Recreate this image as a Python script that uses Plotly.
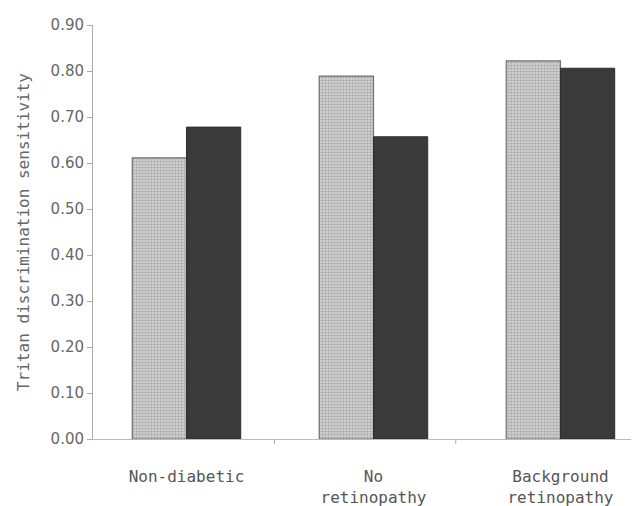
import plotly.graph_objects as go

categories = ["Non-diabetic", "No<br>retinopathy", "Background<br>retinopathy"]
series_light = [0.611, 0.789, 0.822]
series_dark = [0.678, 0.657, 0.806]
y_ticks = [0.0, 0.1, 0.2, 0.3, 0.4, 0.5, 0.6, 0.7, 0.8, 0.9]
y_ticktext = [f"{v:.2f}" for v in y_ticks]
x_pos = [0, 1, 2]

fig = go.Figure()
fig.add_trace(go.Bar(
    x=x_pos, y=series_light, name="light",
    marker=dict(color="#c8c8c8",
                line=dict(color="#707070", width=1.2),
                pattern=dict(shape=".", fgcolor="#7e7e7e", bgcolor="#d8d8d8",
                             size=3, solidity=0.5)),
))
fig.add_trace(go.Bar(
    x=x_pos, y=series_dark, name="dark",
    marker=dict(color="#3a3a3a", line=dict(color="#2e2e2e", width=1)),
))

fig.update_layout(
    width=639, height=506,
    margin=dict(l=85, r=8, t=17, b=75),
    paper_bgcolor="white", plot_bgcolor="white",
    barmode="group", bargap=0.42, bargroupgap=0,
    showlegend=False,
    font=dict(family="DejaVu Sans, sans-serif", color="#555555"),
    xaxis=dict(
        range=[-0.5, 2.42], tickvals=x_pos, ticktext=categories,
        showline=True, linecolor="#bbbbbb", linewidth=1,
        ticks="", showgrid=False, zeroline=False, automargin=False,
        tickfont=dict(size=16, color="#555555",
                      family="DejaVu Sans Mono, monospace"),
        ticklabelstandoff=23,
    ),
    yaxis=dict(
        range=[0, 0.9], tickvals=y_ticks, ticktext=y_ticktext,
        showline=True, linecolor="#aaaaaa", linewidth=1,
        ticks="outside", ticklen=5, tickcolor="#aaaaaa",
        showgrid=False, zeroline=False, automargin=False,
        tickfont=dict(size=15, color="#666666"),
        title=dict(text="Tritan discrimination sensitivity",
                   font=dict(size=16, color="#666666",
                             family="DejaVu Sans Mono, monospace"),
                   standoff=16),
    ),
)

# small tick marks below the x axis between groups
for xv in [0.47, 1.44]:
    fig.add_shape(type="line", xref="x", yref="paper", x0=xv, x1=xv,
                  y0=0, y1=-0.012, line=dict(color="#aaaaaa", width=1))

fig.write_html("out.html")
